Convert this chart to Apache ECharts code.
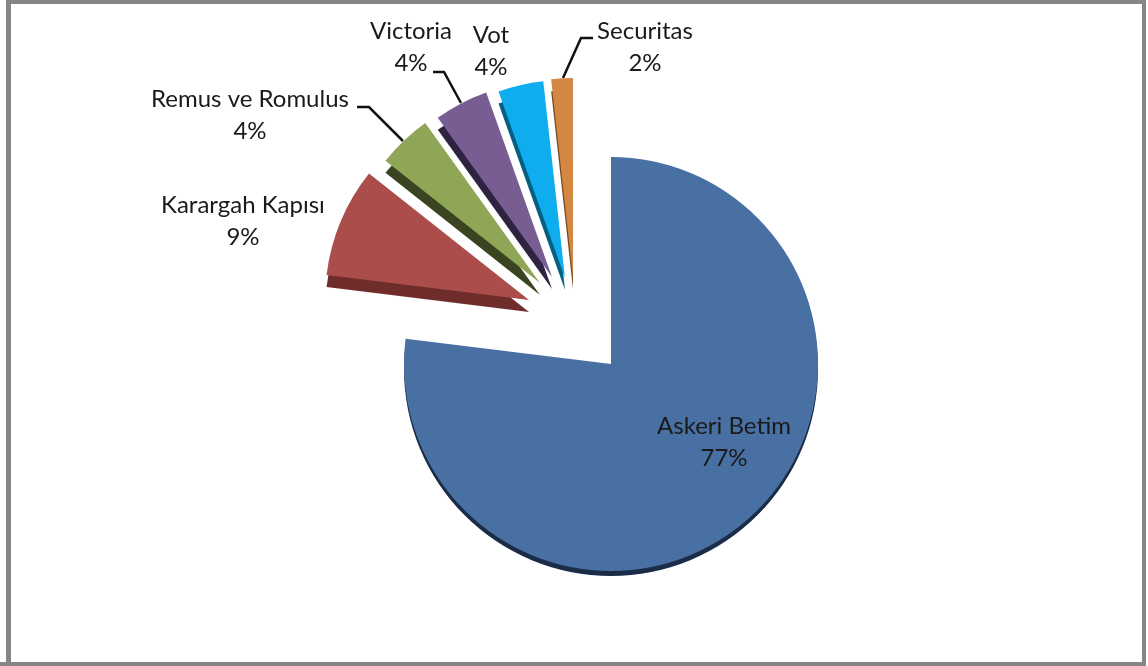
<!DOCTYPE html>
<html><head><meta charset="utf-8">
<style>html,body{margin:0;padding:0;background:#fff}#c{width:1148px;height:666px}</style>
<script src="https://cdn.jsdelivr.net/npm/echarts@6/dist/echarts.min.js"></script>
</head><body><div id="c"></div>
<script>
const categories = ['Askeri Betim','Karargah Kapısı','Remus ve Romulus','Victoria','Vot','Securitas'];
const values = [76.95, 8.7, 4.45, 4.45, 3.7, 1.75];
const colors = ['#4870a2','#aa4d4b','#8ea655','#775d91','#0fadee','#d38743'];
const darkColors = ['#1a2c47','#6e2c2b','#3a4420','#2e2340','#055f80','#7a4a20'];
const centers = [[611,364],[529,300],[540,283],[552,277],[565,278],[573,277]];
const radii = [207,204,197,196,198,199];
const depths = [5,12,12,12,12,12];
const labelPos = [[724,442],[243,221],[250,115],[411,47],[491,51],[645,47]];
const leaders = [null,null,
  [[403,141],[369,107],[357,107]],
  [[461,103],[444,72],[433,72]],
  null,
  [[563,78],[581,38],[593,38]]];

const total = values.reduce((a,b)=>a+b,0);
const series = [];
let cum = 0;
values.forEach((v,i)=>{
  const startAngle = 90 - cum/total*360;
  cum += v;
  const rest = {value:total-v,name:'',itemStyle:{color:'rgba(0,0,0,0)'},label:{show:false},labelLine:{show:false}};
  series.push({
    type:'pie',silent:true,animation:false,startAngle,clockwise:true,
    center:[centers[i][0],centers[i][1]+depths[i]],radius:[0,radii[i]],
    label:{show:false},labelLine:{show:false},z:1+i,
    data:[{value:v,name:categories[i],itemStyle:{color:darkColors[i]}},rest]
  });
  series.push({
    type:'pie',silent:true,animation:false,startAngle,clockwise:true,
    center:centers[i],radius:[0,radii[i]],avoidLabelOverlap:false,z:10+i,
    label:{show:true,position:'outside',formatter:p=>p.name+'\n'+Math.round(p.value)+'%',
      fontFamily:'Lato',fontSize:24,lineHeight:32,color:'#1a1a1a',align:'center'},
    labelLine:{show:!!leaders[i],length:30,length2:14,smooth:false,lineStyle:{color:'#111',width:2.5}},
    labelLayout:()=>{
      const o={x:labelPos[i][0],y:labelPos[i][1],align:'center',verticalAlign:'middle'};
      if(leaders[i]) o.labelLinePoints=leaders[i];
      return o;
    },
    data:[{value:v,name:categories[i],itemStyle:{color:colors[i]}},rest]
  });
});
const chart = echarts.init(document.getElementById('c'),null,{renderer:'canvas'});
const frame = '#868686';
chart.setOption({
  animation:false,backgroundColor:'#fff',
  graphic:[
    {type:'rect',shape:{x:6,y:0,width:5,height:666},style:{fill:frame},z:100},
    {type:'rect',shape:{x:6,y:0,width:1140,height:4},style:{fill:frame},z:100},
    {type:'rect',shape:{x:1142,y:0,width:4,height:666},style:{fill:frame},z:100},
    {type:'rect',shape:{x:0,y:662,width:1146,height:4},style:{fill:frame},z:100}
  ],
  series
});
</script></body></html>
